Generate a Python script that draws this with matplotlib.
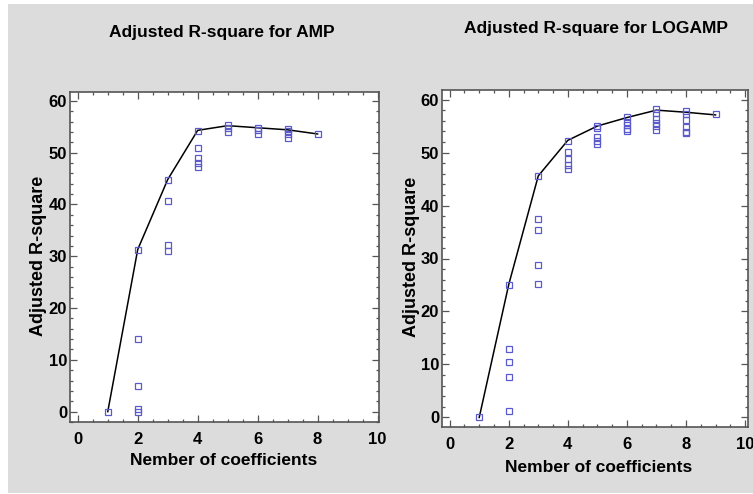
import matplotlib.pyplot as plt
from matplotlib.patches import Rectangle
from matplotlib.ticker import MultipleLocator

# data
amp_line_x = [1, 2, 3, 4, 5, 6, 7, 8]
amp_line_y = [0.0, 31.3, 44.8, 54.3, 55.2, 54.8, 54.4, 53.6]
amp_pts_x = [1, 2, 2, 2, 2, 2, 3, 3, 3, 3, 4, 4, 4, 4, 4,
             5, 5, 5, 6, 6, 6, 7, 7, 7, 7, 8]
amp_pts_y = [0.0, 31.2, 14.0, 5.0, 0.6, -0.1, 44.7, 40.7, 32.2, 31.0,
             54.2, 50.8, 48.9, 47.9, 47.3, 55.3, 54.7, 54.0,
             54.8, 54.3, 53.6, 54.5, 54.2, 53.6, 52.9, 53.6]

log_line_x = [1, 2, 3, 4, 5, 6, 7, 8, 9]
log_line_y = [0.0, 25.1, 45.6, 52.3, 55.0, 56.6, 58.0, 57.6, 57.1]
log_pts_x = [1, 2, 2, 2, 2, 2, 3, 3, 3, 3, 3, 4, 4, 4, 4, 4,
             5, 5, 5, 5, 5, 6, 6, 6, 6, 6, 7, 7, 7, 7, 7, 7,
             8, 8, 8, 8, 8, 8, 9]
log_pts_y = [0.0, 25.0, 12.9, 10.4, 7.6, 1.3, 45.5, 37.5, 35.4, 28.8, 25.2,
             52.2, 50.1, 48.7, 47.7, 46.9, 55.1, 54.7, 53.0, 52.2, 51.6,
             56.7, 55.8, 55.2, 54.5, 54.0, 58.3, 57.5, 56.4, 55.6, 55.0, 54.2,
             57.9, 57.3, 56.1, 54.8, 53.9, 53.6, 57.2]

plt.rcParams['font.family'] = ['Liberation Sans', 'DejaVu Sans']
plt.rcParams['font.weight'] = 'bold'

fig = plt.figure(figsize=(7.53, 4.94), dpi=100, facecolor='white')
# gray panel behind everything (thin white strip at left/top like the screenshot)
fig.patches.append(Rectangle((8 / 753, 1 / 494), 1, 1 - 5 / 494, transform=fig.transFigure,
                             facecolor='#DCDCDC', edgecolor='none', zorder=-10))

marker_col = '#5a5acd'
frame_col = '#555555'

def draw_panel(rect, lx, ly, px, py, xlim, ylim):
    ax = fig.add_axes(rect, zorder=5)
    ax.set_facecolor('white')
    ax.plot(lx, ly, color='black', lw=1.1, zorder=2)
    ax.plot(px, py, ls='none', marker='s', ms=5, mfc='none', mec=marker_col,
            mew=0.9, zorder=3)
    ax.set_xlim(*xlim)
    ax.set_ylim(*ylim)
    ax.xaxis.set_major_locator(MultipleLocator(2))
    ax.xaxis.set_minor_locator(MultipleLocator(0.5))
    ax.yaxis.set_major_locator(MultipleLocator(10))
    ax.yaxis.set_minor_locator(MultipleLocator(2))
    ax.tick_params(which='both', direction='in', top=True, right=True,
                   color=frame_col, width=0.9)
    ax.tick_params(which='major', length=5)
    ax.tick_params(which='minor', length=2.5)
    ax.tick_params(axis='x', which='major', pad=7, labelsize=12)
    ax.tick_params(axis='y', which='major', pad=2, labelsize=12)
    for s in ax.spines.values():
        s.set_color(frame_col)
        s.set_linewidth(1.2)
    return ax

ax1 = draw_panel([70 / 753, 1 - 422 / 494, 309 / 753, 330 / 494],
                 amp_line_x, amp_line_y, amp_pts_x, amp_pts_y,
                 (-0.26, 10.05), (-2.0, 61.7))
ax2 = draw_panel([442 / 753, 1 - 427 / 494, 306 / 753, 337 / 494],
                 log_line_x, log_line_y, log_pts_x, log_pts_y,
                 (-0.26, 10.1), (-1.8, 61.8))

# titles and axis labels
fig.text(222 / 753, 1 - 32 / 494, 'Adjusted R-square for AMP', ha='center', va='center',
         fontsize=12.5, fontweight='bold')
fig.text(596 / 753, 1 - 28 / 494, 'Adjusted R-square for LOGAMP', ha='center', va='center',
         fontsize=12.5, fontweight='bold')
fig.text(224 / 753, 1 - 460 / 494, 'Nember of coefficients', ha='center', va='center',
         fontsize=12.5, fontweight='bold')
fig.text(599 / 753, 1 - 468 / 494, 'Nember of coefficients', ha='center', va='center',
         fontsize=12.5, fontweight='bold')
fig.text(39 / 753, 1 - 256 / 494, 'Adjusted R-square', ha='center', va='center',
         rotation=90, fontsize=13, fontweight='bold')
fig.text(412 / 753, 1 - 257 / 494, 'Adjusted R-square', ha='center', va='center',
         rotation=90, fontsize=13, fontweight='bold')

plt.savefig('out.png', dpi=100, facecolor=fig.get_facecolor())
